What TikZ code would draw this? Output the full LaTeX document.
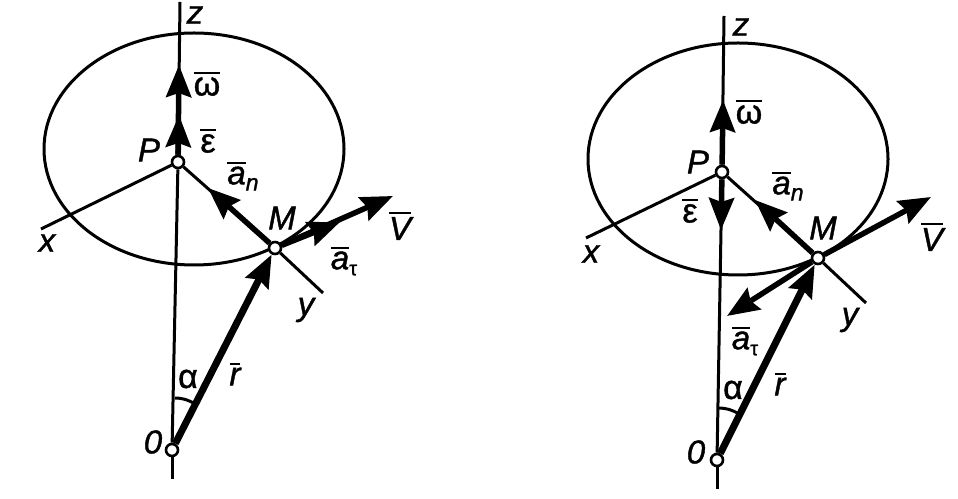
\documentclass[tikz,border=0pt]{standalone}
\usepackage{fontspec}
\setmainfont{Liberation Sans}[FakeBold=1.2]
\usetikzlibrary{arrows.meta}
\newcommand{\barred}[1]{\leavevmode\vbox{\hrule height 2pt \kern 3pt\hbox{#1}}}
\tikzset{
  pointnode/.style = {circle, draw=black, fill=white, line width=2.6pt, inner sep=0pt, minimum size=12pt},
  thinline/.style = {line width=3pt},
  vecline/.style = {line width=5.5pt, -{Stealth[length=32pt, width=25pt, inset=4pt]}},
  letter/.style = {inner sep=0pt, font=\fontsize{33}{33}\selectfont\itshape},
  greek/.style = {inner sep=0pt, font=\fontsize{34}{34}\selectfont}
}
\begin{document}
\begin{tikzpicture}[x=1pt, y=1pt]
  \useasboundingbox (0,0) rectangle (958,498);
  % left figure
  \draw [thinline] (194,349) ellipse (150 and 116);
  \node [pointnode] (P1) at (178,336) {};
  \node [pointnode] (M1) at (275,250) {};
  \node [pointnode] (O1) at (172,48) {};
  \coordinate (ztop1) at (180,496);
  \coordinate (zbot1) at (172,19);
  \coordinate (xend1) at (41,269);
  \coordinate (yend1) at (323,205);
  \coordinate (Vtip1) at (393,302);
  \coordinate (attip1) at (340,276);
  \coordinate (wtip1) at (179,433);
  \coordinate (etip1) at (179,383);
  \coordinate (antip1) at (208,310);
  \coordinate (arcA1) at (175,100);
  \coordinate (arcB1) at (195,94);
  \draw [thinline] (O1) -- (P1);
  \draw [thinline] (P1) -- (ztop1);
  \draw [thinline] (O1) -- (zbot1);
  \draw [thinline] (P1) -- (xend1);
  \draw [thinline] (M1) -- (yend1);
  \draw [thinline] (P1) -- (M1);
  \draw [thinline] (arcA1) to[bend left=15] (arcB1);
  \draw [vecline] (P1) -- (wtip1);
  \draw [vecline] (P1) -- (etip1);
  \draw [vecline] (M1) -- (antip1);
  \draw [vecline] (M1) -- (Vtip1);
  \draw [vecline] (M1) -- (attip1);
  \draw [vecline, line width=7pt] (O1) -- (M1);
  \node [letter] (z1) at (195,483) {z};
  \node [greek] (w1) at (207,414) {\barred{ω}};
  \node [greek] (e1) at (208,357) {\barred{ε}};
  \node [letter] (Plab1) at (149,348) {P};
  \node [letter] (an1) at (243,322) {\barred{a}\raisebox{-6pt}{\fontsize{23}{23}\selectfont n}};
  \node [letter] (Mlab1) at (282,280) {M};
  \node [letter] (V1) at (400,272) {\barred{V}};
  \node [letter] (x1) at (47,255) {x};
  \node [letter] (at1) at (344,237) {\barred{a}\raisebox{-6pt}{\fontsize{20}{20}\selectfont\upshape τ}};
  \node [letter] (y1) at (306,188) {y};
  \node [greek] (al1) at (188,119) {α};
  \node [letter] (r1) at (235,124) {\barred{r}};
  \node [letter] (Olab1) at (153,56) {0};
  % right figure
  \draw [thinline] (738,339) ellipse (150 and 116);
  \node [pointnode] (P2) at (722,326) {};
  \node [pointnode] (M2) at (818,240) {};
  \node [pointnode] (O2) at (717,38) {};
  \coordinate (ztop2) at (724,482);
  \coordinate (zbot2) at (717,9);
  \coordinate (xend2) at (586,260);
  \coordinate (yend2) at (866,195);
  \coordinate (Vtip2) at (931,301);
  \coordinate (attip2) at (727,182);
  \coordinate (wtip2) at (723,398);
  \coordinate (etip2) at (721,268);
  \coordinate (antip2) at (755,298);
  \coordinate (arcA2) at (718,90);
  \coordinate (arcB2) at (739,84);
  \draw [thinline] (O2) -- (P2);
  \draw [thinline] (P2) -- (ztop2);
  \draw [thinline] (O2) -- (zbot2);
  \draw [thinline] (P2) -- (xend2);
  \draw [thinline] (M2) -- (yend2);
  \draw [thinline] (P2) -- (M2);
  \draw [thinline] (arcA2) to[bend left=15] (arcB2);
  \draw [vecline] (P2) -- (wtip2);
  \draw [vecline] (P2) -- (etip2);
  \draw [vecline] (M2) -- (antip2);
  \draw [vecline] (M2) -- (Vtip2);
  \draw [vecline] (M2) -- (attip2);
  \draw [vecline, line width=7pt] (O2) -- (M2);
  \node [letter] (z2) at (741,471) {z};
  \node [greek] (w2) at (749,386) {\barred{ω}};
  \node [greek] (e2) at (690,287) {\barred{ε}};
  \node [letter] (Plab2) at (698,336) {P};
  \node [letter] (an2) at (788,312) {\barred{a}\raisebox{-6pt}{\fontsize{23}{23}\selectfont n}};
  \node [letter] (Mlab2) at (823,270) {M};
  \node [letter] (V2) at (932,261) {\barred{V}};
  \node [letter] (x2) at (591,244) {x};
  \node [letter] (at2) at (745,157) {\barred{a}\raisebox{-6pt}{\fontsize{20}{20}\selectfont\upshape τ}};
  \node [letter] (y2) at (850,178) {y};
  \node [greek] (al2) at (733,108) {α};
  \node [letter] (r2) at (780,114) {\barred{r}};
  \node [letter] (Olab2) at (696,46) {0};
\end{tikzpicture}
\end{document}
